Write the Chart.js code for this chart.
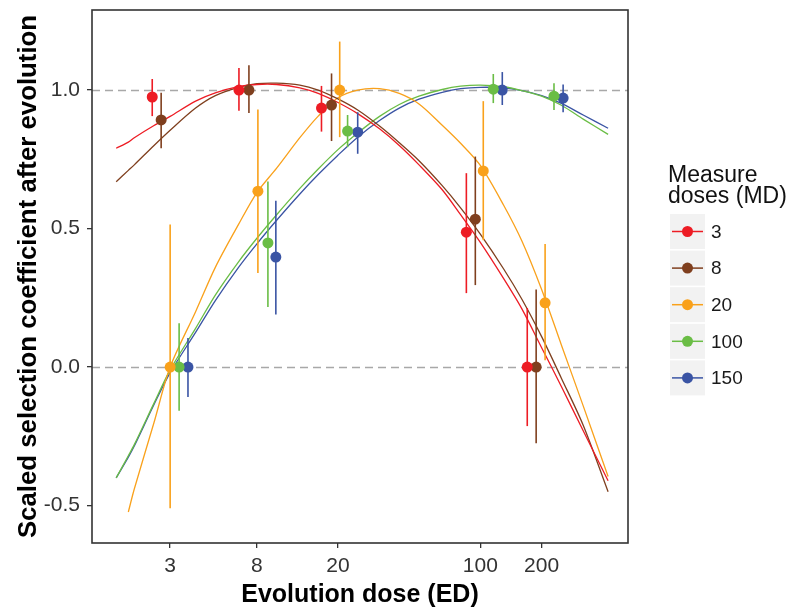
<!DOCTYPE html>
<html>
<head>
<meta charset="utf-8">
<script src="https://cdn.jsdelivr.net/npm/chart.js@4.4.1/dist/chart.umd.min.js"></script>
<style>
  html, body { margin: 0; padding: 0; background: #fff; }
</style>
</head>
<body>
<canvas id="chart" width="790" height="612"></canvas>
<script>
const FONT = '"Liberation Sans", Arial, sans-serif';

const measureDoses = ["3", "8", "20", "100", "150"];
const seriesColors = ["#ED1C24", "#7F3F1E", "#F9A11B", "#6ABD45", "#3A54A4"];
const evolutionDoses = [3, 8, 20, 100, 200];
const yTicks = [-0.5, 0, 0.5, 1.0];

// dose each point sits at (dodged around the evolution dose), one row per measure dose
const dodgedDose = [
  [2.45, 6.53, 16.6, 85.4, 170],
  [2.71, 7.31, 18.6, 94.5, 188],
  [3.0, 8.09, 20.4, 103.4, 208],
  [3.32, 9.06, 22.3, 115.8, 230],
  [3.67, 9.91, 25.0, 128.2, 255]
];
const meanCoef = [
  [0.975, 1.0, 0.935, 0.487, 0.0],
  [0.892, 1.0, 0.946, 0.534, 0.0],
  [0.0, 0.635, 1.0, 0.708, 0.232],
  [0.0, 0.448, 0.852, 1.003, 0.978],
  [0.0, 0.397, 0.848, 1.0, 0.971]
];
const lowerCoef = [
  [0.906, 0.925, 0.85, 0.267, -0.213],
  [0.79, 0.917, 0.816, 0.296, -0.275],
  [-0.51, 0.34, 0.83, 0.458, 0.025],
  [-0.158, 0.217, 0.794, 0.953, 0.928],
  [-0.108, 0.19, 0.77, 0.946, 0.92]
];
const upperCoef = [
  [1.04, 1.08, 1.015, 0.70, 0.213],
  [0.99, 1.09, 1.06, 0.76, 0.28],
  [0.515, 0.93, 1.175, 0.96, 0.444],
  [0.158, 0.67, 0.91, 1.058, 1.025],
  [0.105, 0.60, 0.92, 1.065, 1.02]
];

// fitted curves
const fitDoses = [1.63, 1.87, 2, 2.5, 3, 4, 5, 6.5, 8, 10, 13, 16, 20, 25, 32, 40, 50, 65, 80, 100, 130, 160, 200, 250, 320, 424];
const fitCoef = [
  [0.79, 0.812, 0.828, 0.872, 0.905, 0.96, 0.99, 1.012, 1.02, 1.02, 1.008, 0.988, 0.955, 0.915, 0.86, 0.80, 0.73, 0.64, 0.55, 0.45, 0.32, 0.21, 0.07, -0.07, -0.23, -0.41],
  [0.669, 0.71, 0.73, 0.80, 0.855, 0.935, 0.98, 1.01, 1.023, 1.025, 1.018, 1.0, 0.968, 0.928, 0.87, 0.81, 0.745, 0.655, 0.575, 0.48, 0.355, 0.245, 0.11, -0.04, -0.21, -0.45],
  [null, -0.523, -0.44, -0.20, 0.0, 0.20, 0.36, 0.515, 0.63, 0.718, 0.828, 0.906, 0.972, 1.0, 1.005, 0.988, 0.95, 0.873, 0.808, 0.728, 0.585, 0.455, 0.28, 0.08, -0.14, -0.395],
  [-0.40, -0.32, -0.28, -0.13, -0.01, 0.14, 0.26, 0.38, 0.465, 0.55, 0.645, 0.715, 0.785, 0.845, 0.905, 0.948, 0.978, 1.002, 1.014, 1.018, 1.012, 0.998, 0.978, 0.945, 0.895, 0.84],
  [-0.40, -0.325, -0.285, -0.135, -0.02, 0.125, 0.24, 0.36, 0.445, 0.53, 0.625, 0.695, 0.765, 0.83, 0.89, 0.935, 0.967, 0.992, 1.005, 1.01, 1.008, 0.998, 0.98, 0.952, 0.91, 0.862]
];

// point datasets first so they end up drawn on top of the curves
const pointSets = measureDoses.map((md, s) => ({
  label: "MD " + md,
  data: meanCoef[s].map((y, i) => ({ x: dodgedDose[s][i], y: y })),
  backgroundColor: seriesColors[s],
  borderWidth: 0,
  pointRadius: 5.5,
  pointHoverRadius: 5.5
}));
const curveSets = measureDoses.map((md, s) => ({
  label: "fit " + md,
  data: fitDoses.map((x, i) => ({ x: x, y: fitCoef[s][i] })).filter(p => p.y !== null),
  showLine: true,
  borderColor: seriesColors[s],
  borderWidth: 1.3,
  pointRadius: 0,
  tension: 0.3,
  fill: false
}));

// dashed reference lines at 0 and 1
const refLines = {
  id: "refLines",
  beforeDatasetsDraw(chart) {
    const { ctx, chartArea, scales } = chart;
    ctx.save();
    ctx.strokeStyle = "#A8A8A8";
    ctx.lineWidth = 1.3;
    ctx.setLineDash([8, 5]);
    [0, 1].forEach(v => {
      const y = Math.round(scales.y.getPixelForValue(v)) + 0.5;
      ctx.beginPath();
      ctx.moveTo(chartArea.left, y);
      ctx.lineTo(chartArea.right, y);
      ctx.stroke();
    });
    ctx.restore();
  }
};

// vertical error bars, drawn after the curves and before the points
const errorBars = {
  id: "errorBars",
  beforeDatasetDraw(chart, args) {
    if (args.index !== measureDoses.length - 1) return;
    const { ctx, scales } = chart;
    ctx.save();
    ctx.lineWidth = 1.6;
    measureDoses.forEach((md, s) => {
      ctx.strokeStyle = seriesColors[s];
      dodgedDose[s].forEach((d, i) => {
        const x = scales.x.getPixelForValue(d);
        ctx.beginPath();
        ctx.moveTo(x, scales.y.getPixelForValue(lowerCoef[s][i]));
        ctx.lineTo(x, scales.y.getPixelForValue(upperCoef[s][i]));
        ctx.stroke();
      });
    });
    ctx.restore();
  }
};

const panelBorder = {
  id: "panelBorder",
  afterDraw(chart) {
    const { ctx, chartArea } = chart;
    ctx.save();
    ctx.strokeStyle = "#333";
    ctx.lineWidth = 1.6;
    ctx.strokeRect(chartArea.left, chartArea.top, chartArea.right - chartArea.left, chartArea.bottom - chartArea.top);
    ctx.restore();
  }
};

const doseLegend = {
  id: "doseLegend",
  afterDraw(chart) {
    const c = chart.ctx;
    c.save();
    c.textAlign = "left";
    c.textBaseline = "alphabetic";
    c.fillStyle = "#111";
    c.font = "23px " + FONT;
    c.fillText("Measure", 668, 182);
    c.fillText("doses (MD)", 668, 203);
    measureDoses.forEach((label, i) => {
      const top = 214 + i * 36.6;
      const cy = top + 17.5;
      c.fillStyle = "#F2F2F2";
      c.fillRect(670, top, 35, 35);
      c.strokeStyle = seriesColors[i];
      c.lineWidth = 1.5;
      c.beginPath();
      c.moveTo(672, cy);
      c.lineTo(703, cy);
      c.stroke();
      c.fillStyle = seriesColors[i];
      c.beginPath();
      c.arc(687.5, cy, 5.5, 0, Math.PI * 2);
      c.fill();
      c.fillStyle = "#1a1a1a";
      c.font = "19px " + FONT;
      c.textBaseline = "middle";
      c.fillText(label, 711, cy + 1);
      c.textBaseline = "alphabetic";
    });
    c.restore();
  }
};

new Chart(document.getElementById("chart"), {
  type: "scatter",
  data: { datasets: pointSets.concat(curveSets) },
  options: {
    responsive: false,
    animation: false,
    devicePixelRatio: 1,
    layout: { padding: { left: 0, right: 162, top: 10, bottom: 0 } },
    plugins: { legend: { display: false }, tooltip: { enabled: false } },
    scales: {
      x: {
        type: "logarithmic",
        min: 1.24,
        max: 531,
        afterBuildTicks: s => { s.ticks = evolutionDoses.map(v => ({ value: v })); },
        afterFit: s => { s.height = 69; s.paddingLeft = 0; s.paddingRight = 0; },
        ticks: {
          callback: v => String(v),
          color: "#333",
          font: { family: FONT, size: 21 },
          padding: 6,
          maxRotation: 0,
          autoSkip: false
        },
        grid: { drawOnChartArea: false, color: "#333", tickColor: "#333", tickLength: 5, lineWidth: 1.3 },
        border: { display: false },
        title: {
          display: true,
          text: "Evolution dose (ED)",
          color: "#000",
          font: { family: FONT, size: 25, weight: "bold" },
          padding: { top: 0, bottom: 2 }
        }
      },
      y: {
        min: -0.635,
        max: 1.289,
        afterBuildTicks: s => { s.ticks = yTicks.map(v => ({ value: v })); },
        afterFit: s => { s.width = 92; s.paddingTop = 0; s.paddingBottom = 0; },
        ticks: {
          callback: v => v.toFixed(1),
          color: "#333",
          font: { family: FONT, size: 21 },
          padding: 7
        },
        grid: { drawOnChartArea: false, color: "#333", tickColor: "#333", tickLength: 5, lineWidth: 1.3 },
        border: { display: false },
        title: {
          display: true,
          text: "Scaled selection coefficient after evolution",
          color: "#000",
          font: { family: FONT, size: 25.8, weight: "bold" },
          padding: { top: 13, bottom: 0 }
        }
      }
    }
  },
  plugins: [refLines, errorBars, panelBorder, doseLegend]
});
</script>
</body>
</html>
